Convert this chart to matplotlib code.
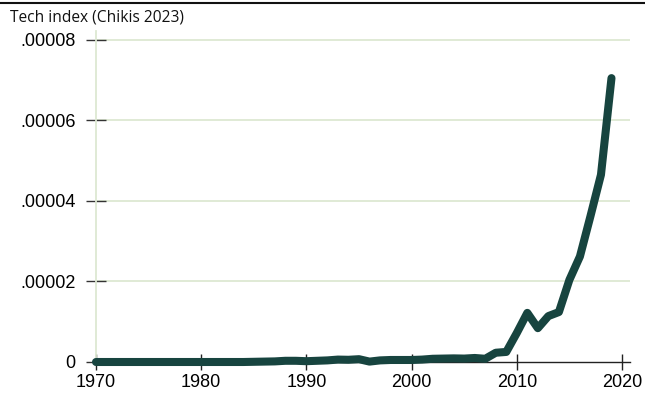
import matplotlib
matplotlib.use("Agg")
import matplotlib.pyplot as plt
from matplotlib.lines import Line2D
import numpy as np

years = list(range(1970, 2020))
tech_index = [
    0.0, 0.0, 0.0, 0.0, 0.0, 0.0, 0.0, 0.0, 0.0, 0.0,          # 1970-1979
    0.0, 0.0, 0.0, 0.0, 0.0, 0.5e-7, 1.0e-7, 1.5e-7, 3.0e-7, 3.0e-7,  # 1980-1989
    2.0e-7, 3.0e-7, 4.0e-7, 6.0e-7, 5.5e-7, 7.0e-7, 1.0e-7, 4.0e-7, 5.0e-7, 5.0e-7,  # 1990-1999
    5.0e-7, 6.0e-7, 8.0e-7, 8.5e-7, 9.0e-7, 8.5e-7, 1.0e-6, 8.0e-7, 2.3e-6, 2.5e-6,  # 2000-2009
    7.2e-6, 1.22e-5, 8.4e-6, 1.14e-5, 1.24e-5, 2.04e-5, 2.62e-5, 3.62e-5, 4.65e-5, 7.05e-5,  # 2010-2019
]
x_ticks = [1970, 1980, 1990, 2000, 2010, 2020]
y_ticks = [0, 0.00002, 0.00004, 0.00006, 0.00008]
y_tick_labels = ["0", ".00002", ".00004", ".00006", ".00008"]
title = "Tech index (Chikis 2023)"

W, H = 645, 398
fig = plt.figure(figsize=(W / 100, H / 100), dpi=100)
ax = fig.add_axes([96 / W, (H - 362) / H, (630 - 96) / W, (362 - 31) / H])

grid_color = "#dde8d2"
line_color = "#17443f"

ax.plot(years, tech_index, color=line_color, lw=5.8, solid_capstyle="round",
        solid_joinstyle="round", zorder=3, clip_on=False)

ax.set_xlim(1970, 2020.76)
ax.set_ylim(0, 0.0000822)
ax.set_xticks(x_ticks)
ax.set_xticklabels([str(t) for t in x_ticks])
ax.set_yticks(y_ticks)
ax.set_yticklabels(y_tick_labels)

for yv in y_ticks[1:]:
    ax.axhline(yv, color=grid_color, lw=1.3, zorder=1)

for s in ["top", "right"]:
    ax.spines[s].set_visible(False)
ax.spines["left"].set_color(grid_color)
ax.spines["left"].set_linewidth(1.3)
ax.spines["bottom"].set_color("#222222")
ax.spines["bottom"].set_linewidth(1.0)

ax.tick_params(axis="x", direction="inout", length=11, width=1.0, color="#222222",
               labelsize=13, pad=3)
ax.tick_params(axis="y", direction="inout", length=15, width=1.0, color="#333333",
               labelsize=13, pad=7)
for lbl in ax.get_xticklabels() + ax.get_yticklabels():
    lbl.set_fontfamily("Liberation Sans")

fig.text(10 / W, 1 - 17 / H, title, fontsize=11.2, family="Open Sans",
         va="center", ha="left", color="#111111")
fig.add_artist(Line2D([0, 1], [1 - 3 / H, 1 - 3 / H], color="#111111", lw=1.5,
                      transform=fig.transFigure))

fig.savefig("out.png", dpi=100)
